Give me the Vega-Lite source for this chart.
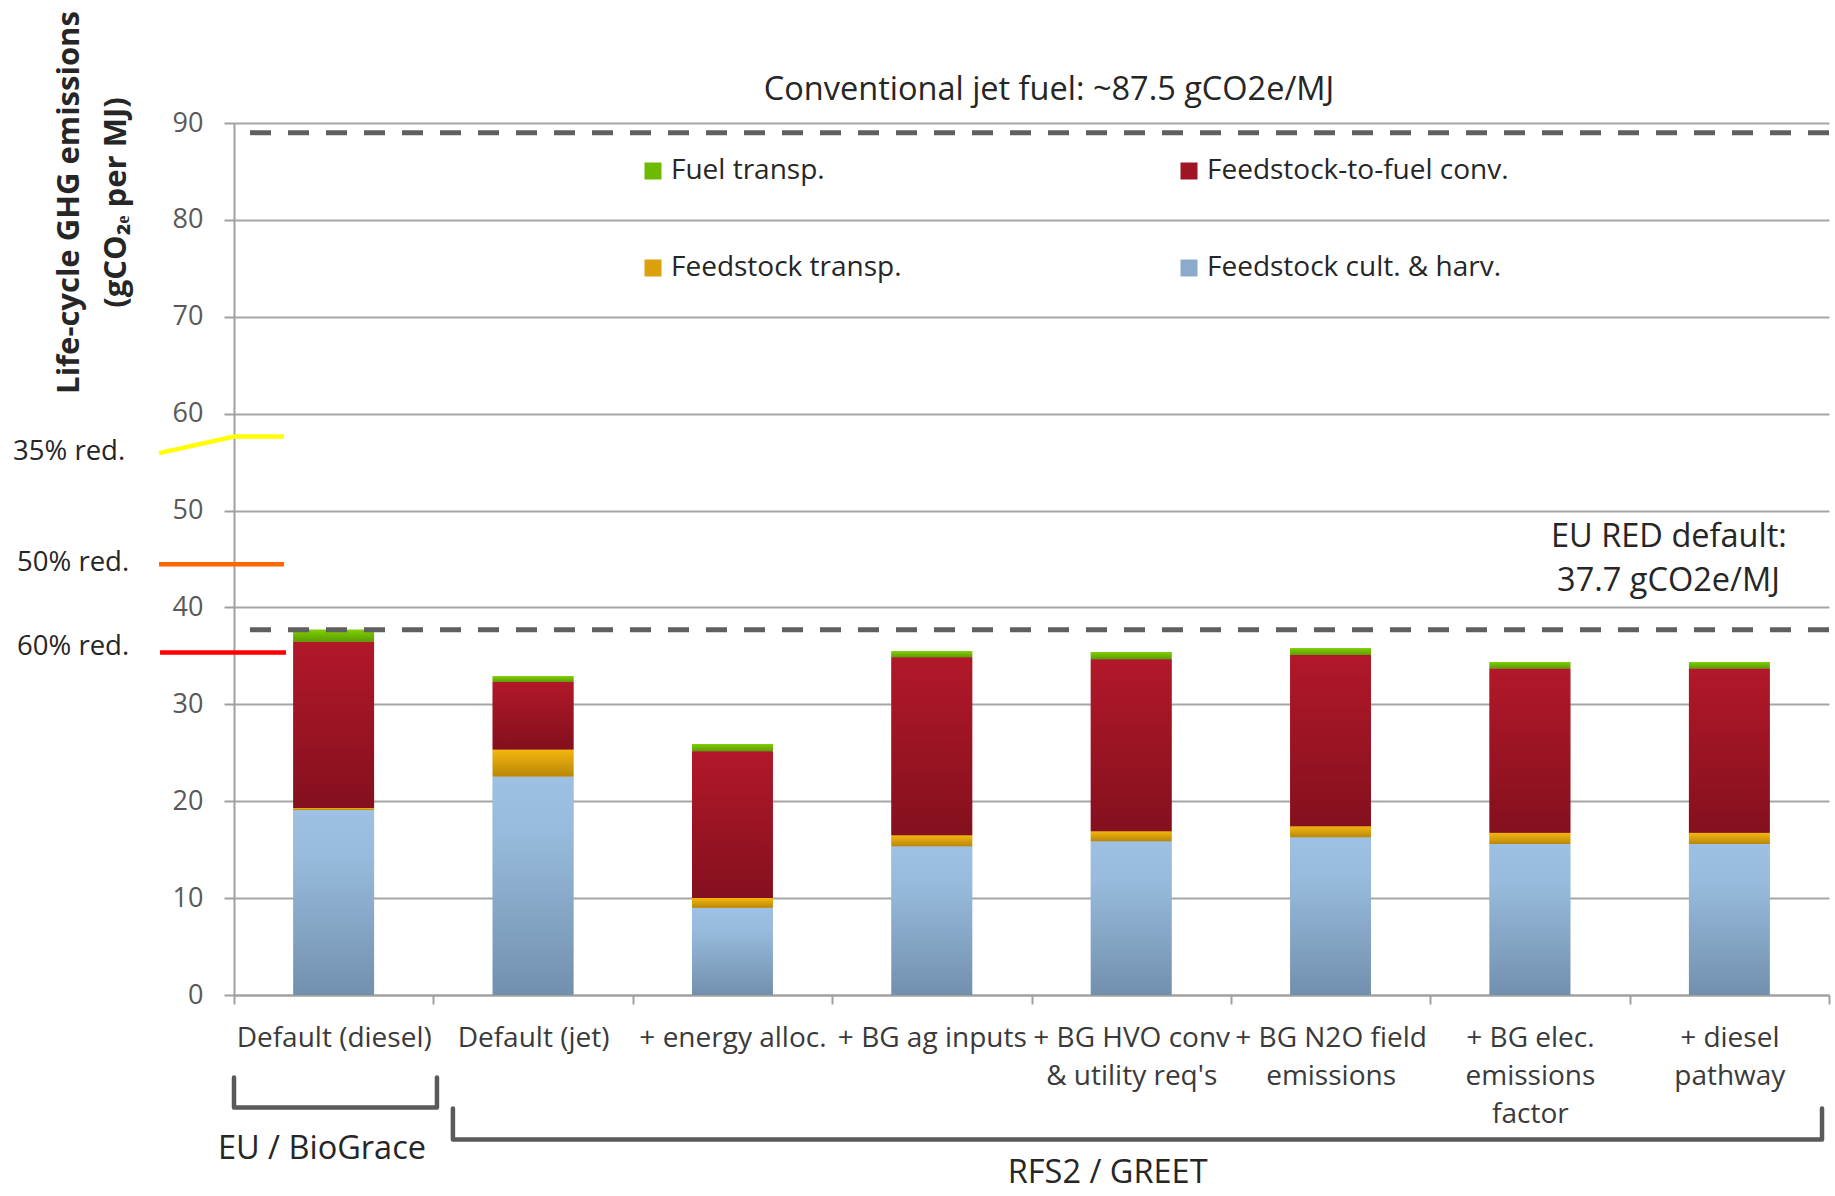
{
  "$schema": "https://vega.github.io/schema/vega-lite/v6.json",
  "width": 1595,
  "height": 872,
  "autosize": {"type": "none"},
  "padding": {"left": 234, "top": 123, "right": 6, "bottom": 201},
  "background": "white",
  "config": {"view": {"stroke": null}, "font": "Open Sans"},
  "datasets": {
    "emissions": [
      {"scenario": "Default (diesel)", "component": "Feedstock cult. & harv.", "value": 19.1},
      {"scenario": "Default (diesel)", "component": "Feedstock transp.", "value": 0.2},
      {"scenario": "Default (diesel)", "component": "Feedstock-to-fuel conv.", "value": 17.15},
      {"scenario": "Default (diesel)", "component": "Fuel transp.", "value": 1.25},
      {"scenario": "Default (jet)", "component": "Feedstock cult. & harv.", "value": 22.55},
      {"scenario": "Default (jet)", "component": "Feedstock transp.", "value": 2.8},
      {"scenario": "Default (jet)", "component": "Feedstock-to-fuel conv.", "value": 6.95},
      {"scenario": "Default (jet)", "component": "Fuel transp.", "value": 0.6},
      {"scenario": "+ energy alloc.", "component": "Feedstock cult. & harv.", "value": 9.0},
      {"scenario": "+ energy alloc.", "component": "Feedstock transp.", "value": 1.0},
      {"scenario": "+ energy alloc.", "component": "Feedstock-to-fuel conv.", "value": 15.15},
      {"scenario": "+ energy alloc.", "component": "Fuel transp.", "value": 0.75},
      {"scenario": "+ BG ag inputs", "component": "Feedstock cult. & harv.", "value": 15.35},
      {"scenario": "+ BG ag inputs", "component": "Feedstock transp.", "value": 1.15},
      {"scenario": "+ BG ag inputs", "component": "Feedstock-to-fuel conv.", "value": 18.35},
      {"scenario": "+ BG ag inputs", "component": "Fuel transp.", "value": 0.62},
      {"scenario": "+ BG HVO conv\n& utility req's", "component": "Feedstock cult. & harv.", "value": 15.87},
      {"scenario": "+ BG HVO conv\n& utility req's", "component": "Feedstock transp.", "value": 1.03},
      {"scenario": "+ BG HVO conv\n& utility req's", "component": "Feedstock-to-fuel conv.", "value": 17.76},
      {"scenario": "+ BG HVO conv\n& utility req's", "component": "Fuel transp.", "value": 0.73},
      {"scenario": "+ BG N2O field\nemissions", "component": "Feedstock cult. & harv.", "value": 16.28},
      {"scenario": "+ BG N2O field\nemissions", "component": "Feedstock transp.", "value": 1.14},
      {"scenario": "+ BG N2O field\nemissions", "component": "Feedstock-to-fuel conv.", "value": 17.66},
      {"scenario": "+ BG N2O field\nemissions", "component": "Fuel transp.", "value": 0.72},
      {"scenario": "+ BG elec.\nemissions\nfactor", "component": "Feedstock cult. & harv.", "value": 15.58},
      {"scenario": "+ BG elec.\nemissions\nfactor", "component": "Feedstock transp.", "value": 1.16},
      {"scenario": "+ BG elec.\nemissions\nfactor", "component": "Feedstock-to-fuel conv.", "value": 16.96},
      {"scenario": "+ BG elec.\nemissions\nfactor", "component": "Fuel transp.", "value": 0.68},
      {"scenario": "+ diesel\npathway", "component": "Feedstock cult. & harv.", "value": 15.58},
      {"scenario": "+ diesel\npathway", "component": "Feedstock transp.", "value": 1.16},
      {"scenario": "+ diesel\npathway", "component": "Feedstock-to-fuel conv.", "value": 16.96},
      {"scenario": "+ diesel\npathway", "component": "Fuel transp.", "value": 0.68}
    ],
    "references": [
      {"benchmark": "Conventional jet fuel", "level": 89},
      {"benchmark": "EU RED default", "level": 37.7}
    ],
    "reductions": [
      {"target": "35% red.", "pt": 1, "pos": -0.376, "level": 55.93},
      {"target": "35% red.", "pt": 2, "pos": 0.0, "level": 57.65},
      {"target": "35% red.", "pt": 3, "pos": 0.251, "level": 57.65},
      {"target": "50% red.", "pt": 1, "pos": -0.376, "level": 44.47},
      {"target": "50% red.", "pt": 2, "pos": 0.251, "level": 44.47},
      {"target": "60% red.", "pt": 1, "pos": -0.371, "level": 35.36},
      {"target": "60% red.", "pt": 2, "pos": 0.261, "level": 35.36}
    ],
    "reductionLabels": [
      {"label": "35% red.", "pos": -1.108, "level": 56.0},
      {"label": "50% red.", "pos": -1.088, "level": 44.57},
      {"label": "60% red.", "pos": -1.088, "level": 35.9}
    ],
    "notes": [
      {"label": "Conventional jet fuel: ~87.5 gCO2e/MJ", "pos": 4.088, "level": 93.37},
      {"label": "EU RED default:", "pos": 7.197, "level": 47.3},
      {"label": "37.7 gCO2e/MJ", "pos": 7.195, "level": 42.74},
      {"label": "EU / BioGrace", "pos": 0.441, "level": -15.85},
      {"label": "RFS2 / GREET", "pos": 4.382, "level": -18.35}
    ],
    "brackets": [
      {"group": "EU / BioGrace", "pt": 1, "pos": 0.0, "level": -8.52},
      {"group": "EU / BioGrace", "pt": 2, "pos": 0.0, "level": -11.61},
      {"group": "EU / BioGrace", "pt": 3, "pos": 1.018, "level": -11.61},
      {"group": "EU / BioGrace", "pt": 4, "pos": 1.018, "level": -8.52},
      {"group": "RFS2 / GREET", "pt": 1, "pos": 1.098, "level": -11.72},
      {"group": "RFS2 / GREET", "pt": 2, "pos": 1.098, "level": -14.92},
      {"group": "RFS2 / GREET", "pt": 3, "pos": 7.965, "level": -14.92},
      {"group": "RFS2 / GREET", "pt": 4, "pos": 7.965, "level": -11.72}
    ]
  },
  "layer": [
    {
      "data": {"name": "emissions"},
      "layer": [
        {
          "mark": {"type": "bar", "width": {"band": 0.405}},
          "encoding": {
            "x": {
              "field": "scenario",
              "type": "nominal",
              "sort": null,
              "scale": {"paddingInner": 0, "paddingOuter": 0},
              "axis": {
                "title": null,
                "labelAngle": 0,
                "labelExpr": "split(datum.label, '\\n')",
                "labelFont": "Open Sans",
                "labelFontSize": 28,
                "labelColor": "#3A3A3A",
                "labelLineHeight": 38,
                "labelPadding": 20,
                "labelLimit": 400,
                "labelOverlap": false,
                "tickBand": "extent",
                "tickSize": 9,
                "tickColor": "#A0A0A0",
                "tickWidth": 2,
                "domainColor": "#A0A0A0",
                "domainWidth": 2
              }
            },
            "y": {
              "field": "value",
              "type": "quantitative",
              "stack": "zero",
              "scale": {"domain": [0, 90], "nice": false},
              "axis": {
                "values": [0, 10, 20, 30, 40, 50, 60, 70, 80, 90],
                "title": ["Life-cycle GHG emissions", "(gCO₂ₑ per MJ)"],
                "titleFont": "Open Sans",
                "titleFontSize": 31,
                "titleFontWeight": "bold",
                "titleColor": "#262626",
                "titleAngle": -90,
                "titleAlign": "center",
                "titleBaseline": "middle",
                "titleLineHeight": 47,
                "titleX": -165,
                "titleY": 79,
                "labelFont": "Open Sans",
                "labelFontSize": 27,
                "labelColor": "#595959",
                "labelPadding": 21,
                "tickSize": 10,
                "tickColor": "#A0A0A0",
                "tickWidth": 2,
                "domainColor": "#A0A0A0",
                "domainWidth": 2,
                "grid": true,
                "gridColor": "#A6A6A6",
                "gridWidth": 2
              }
            },
            "color": {
              "field": "component",
              "type": "nominal",
              "scale": {
                "domain": ["Fuel transp.", "Feedstock-to-fuel conv.", "Feedstock transp.", "Feedstock cult. & harv."],
                "range": ["#6EBA02", "#9E1625", "#DBA10C", "#8AABCB"]
              },
              "legend": {
                "title": null,
                "orient": "none",
                "legendX": 405,
                "legendY": 34,
                "direction": "horizontal",
                "columns": 2,
                "columnPadding": 202,
                "rowPadding": 69,
                "gridAlign": "all",
                "padding": 0,
                "symbolType": "square",
                "symbolSize": 289,
                "symbolStrokeWidth": 0,
                "symbolOpacity": 1,
                "labelFont": "Open Sans",
                "labelFontSize": 28,
                "labelColor": "#262626",
                "labelOffset": 4,
                "labelLimit": 500
              }
            },
            "order": {"field": "component", "sort": "ascending"}
          }
        },
        {
          "transform": [
            {"stack": "value", "groupby": ["scenario"], "sort": [{"field": "component", "order": "ascending"}], "as": ["bottom", "top"]},
            {"filter": "datum.component === 'Feedstock cult. & harv.'"}
          ],
          "mark": {"type": "bar", "width": {"band": 0.405}, "color": {"gradient": "linear", "x1": 0, "y1": 0, "x2": 0, "y2": 1, "stops": [{"offset": 0, "color": "#9DC0E3"}, {"offset": 0.25, "color": "#98BBDD"}, {"offset": 1, "color": "#7290AD"}]}},
          "encoding": {
            "x": {"field": "scenario", "type": "nominal", "sort": null},
            "y": {"field": "top", "type": "quantitative"},
            "y2": {"field": "bottom"}
          }
        },
        {
          "transform": [
            {"stack": "value", "groupby": ["scenario"], "sort": [{"field": "component", "order": "ascending"}], "as": ["bottom", "top"]},
            {"filter": "datum.component === 'Feedstock transp.'"}
          ],
          "mark": {"type": "bar", "width": {"band": 0.405}, "color": {"gradient": "linear", "x1": 0, "y1": 0, "x2": 0, "y2": 1, "stops": [{"offset": 0, "color": "#F4B70D"}, {"offset": 1, "color": "#B9870A"}]}},
          "encoding": {
            "x": {"field": "scenario", "type": "nominal", "sort": null},
            "y": {"field": "top", "type": "quantitative"},
            "y2": {"field": "bottom"}
          }
        },
        {
          "transform": [
            {"stack": "value", "groupby": ["scenario"], "sort": [{"field": "component", "order": "ascending"}], "as": ["bottom", "top"]},
            {"filter": "datum.component === 'Feedstock-to-fuel conv.'"}
          ],
          "mark": {"type": "bar", "width": {"band": 0.405}, "color": {"gradient": "linear", "x1": 0, "y1": 0, "x2": 0, "y2": 1, "stops": [{"offset": 0, "color": "#B21829"}, {"offset": 1, "color": "#84101E"}]}},
          "encoding": {
            "x": {"field": "scenario", "type": "nominal", "sort": null},
            "y": {"field": "top", "type": "quantitative"},
            "y2": {"field": "bottom"}
          }
        },
        {
          "transform": [
            {"stack": "value", "groupby": ["scenario"], "sort": [{"field": "component", "order": "ascending"}], "as": ["bottom", "top"]},
            {"filter": "datum.component === 'Fuel transp.'"}
          ],
          "mark": {"type": "bar", "width": {"band": 0.405}, "color": {"gradient": "linear", "x1": 0, "y1": 0, "x2": 0, "y2": 1, "stops": [{"offset": 0, "color": "#80D000"}, {"offset": 1, "color": "#5C9A05"}]}},
          "encoding": {
            "x": {"field": "scenario", "type": "nominal", "sort": null},
            "y": {"field": "top", "type": "quantitative"},
            "y2": {"field": "bottom"}
          }
        }
      ]
    },
    {
      "data": {"name": "references"},
      "mark": {"type": "rule", "color": "#5F5F5F", "strokeWidth": 5, "strokeDash": [21, 17]},
      "encoding": {
        "y": {"field": "level", "type": "quantitative"}
      }
    },
    {
      "layer": [
        {
          "data": {"name": "reductions"},
          "mark": {"type": "line", "strokeWidth": 4.5, "strokeCap": "butt"},
          "encoding": {
            "x": {"field": "pos", "type": "quantitative", "scale": {"domain": [0, 8]}, "axis": null},
            "y": {"field": "level", "type": "quantitative"},
            "stroke": {
              "field": "target",
              "type": "nominal",
              "scale": {"domain": ["35% red.", "50% red.", "60% red."], "range": ["#FFFF00", "#FF6600", "#FF0000"]},
              "legend": null
            },
            "order": {"field": "pt"}
          }
        },
        {
          "data": {"name": "reductionLabels"},
          "mark": {"type": "text", "align": "left", "baseline": "middle", "font": "Open Sans", "fontSize": 27.5, "color": "#262626"},
          "encoding": {
            "x": {"field": "pos", "type": "quantitative", "scale": {"domain": [0, 8]}, "axis": null},
            "y": {"field": "level", "type": "quantitative"},
            "text": {"field": "label"}
          }
        },
        {
          "data": {"name": "notes"},
          "mark": {"type": "text", "align": "center", "baseline": "middle", "font": "Open Sans", "fontSize": 32.5, "color": "#262626"},
          "encoding": {
            "x": {"field": "pos", "type": "quantitative", "scale": {"domain": [0, 8]}, "axis": null},
            "y": {"field": "level", "type": "quantitative"},
            "text": {"field": "label"}
          }
        },
        {
          "data": {"name": "brackets"},
          "mark": {"type": "line", "strokeWidth": 4.5, "color": "#5A5A5A", "strokeJoin": "round", "strokeCap": "round"},
          "encoding": {
            "x": {"field": "pos", "type": "quantitative", "scale": {"domain": [0, 8]}, "axis": null},
            "y": {"field": "level", "type": "quantitative"},
            "detail": {"field": "group"},
            "order": {"field": "pt"}
          }
        }
      ]
    }
  ],
  "resolve": {"scale": {"x": "independent"}}
}
